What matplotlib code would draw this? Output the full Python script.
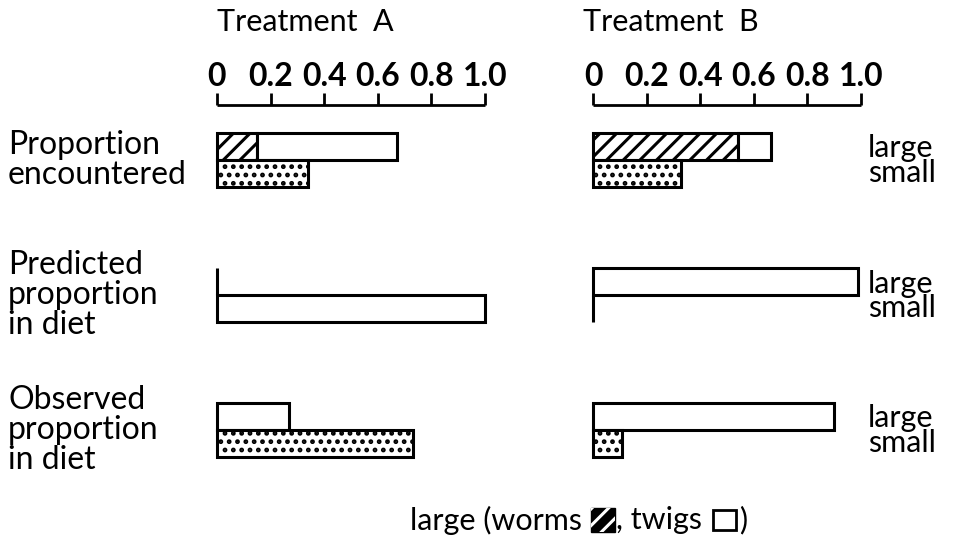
import matplotlib
matplotlib.use("Agg")
import matplotlib.pyplot as plt
from matplotlib import transforms
from matplotlib.offsetbox import TextArea, DrawingArea, HPacker, AnchoredOffsetbox
from matplotlib.patches import Rectangle

# ---- data ----
treatments = ["Treatment  A", "Treatment  B"]
row_labels = ["Proportion\nencountered", "Predicted\nproportion\nin diet", "Observed\nproportion\nin diet"]
size_labels = "large\nsmall"
x_ticks = [0, 0.2, 0.4, 0.6, 0.8, 1.0]
x_tick_labels = ["0", "0.2", "0.4", "0.6", "0.8", "1.0"]

# per treatment (A, B)
enc_large_worms = [0.15, 0.54]
enc_large_twigs = [0.52, 0.125]
enc_small = [0.34, 0.33]
pred_large = [0.0, 0.99]
pred_small = [1.0, 0.0]
obs_large = [0.27, 0.90]
obs_small = [0.73, 0.11]

legend_parts = ["large (worms ", ", twigs ", ")"]

# ---- style ----
plt.rcParams["font.family"] = ["Lato", "DejaVu Sans"]
plt.rcParams["hatch.linewidth"] = 2.2
FS = 22
W, H = 963, 548
fig = plt.figure(figsize=(W / 100, H / 100), dpi=100)


def px_to_fig(x0, x1, ytop, ybot):
    return [x0 / W, 1 - ybot / H, (x1 - x0) / W, (ybot - ytop) / H]


y_top_px, y_bot_px = 105, 470
row_px0, row_step = 160, 135
ylim = ((y_bot_px - row_px0) / row_step, (y_top_px - row_px0) / row_step)
bh = 27 / row_step

axes = [fig.add_axes(px_to_fig(217, 485, y_top_px, y_bot_px)),
        fig.add_axes(px_to_fig(593, 861, y_top_px, y_bot_px))]

lw = 2.2
for i, ax in enumerate(axes):
    common = dict(height=bh, edgecolor="black", linewidth=lw, clip_on=False, color="white")
    # row 0: encountered
    ax.barh(0 - bh / 2, enc_large_worms[i], hatch="//", **common)
    ax.barh(0 - bh / 2, enc_large_twigs[i], left=enc_large_worms[i], **common)
    ax.barh(0 + bh / 2, enc_small[i], hatch="..", **common)
    # row 1: predicted
    ax.barh(1 - bh / 2, pred_large[i], **common)
    ax.barh(1 + bh / 2, pred_small[i], **common)
    # row 2: observed
    ax.barh(2 - bh / 2, obs_large[i], **common)
    ax.barh(2 + bh / 2, obs_small[i], hatch="..", **common)

    ax.set_xlim(0, 1)
    ax.set_ylim(*ylim)
    for s in ["left", "right", "bottom"]:
        ax.spines[s].set_visible(False)
    ax.spines["top"].set_linewidth(2.0)
    ax.spines["top"].set_capstyle("butt")
    ax.xaxis.tick_top()
    ax.set_xticks(x_ticks)
    ax.set_xticklabels(x_tick_labels, fontsize=FS + 1, fontweight="bold")
    ax.tick_params(axis="x", direction="out", length=9, width=2.0, pad=1)
    ax.set_yticks([])
    ax.patch.set_alpha(0)

# titles
title_x = [217, 583]
for i in range(2):
    fig.text(title_x[i] / W, 1 - 22 / H, treatments[i], fontsize=FS, ha="left", va="center")

# left row labels
trL = transforms.blended_transform_factory(fig.transFigure, axes[0].transData)
for r, lab in enumerate(row_labels):
    axes[0].text(8 / W, r, lab, transform=trL, fontsize=FS + 1, ha="left", va="center",
                 linespacing=1.0)

# right size labels
axes[1].yaxis.tick_right()
axes[1].set_yticks([0, 1, 2])
axes[1].set_yticklabels([size_labels] * 3, fontsize=FS, linespacing=0.85)
axes[1].tick_params(axis="y", length=0, pad=5)
for lab in axes[1].get_yticklabels():
    lab.set_ha("left")

# bottom legend: text with hatched and open swatches
sw = 17
da_worm = DrawingArea(sw, sw, 0, 0)
da_worm.add_artist(Rectangle((0, 0), sw, sw, facecolor="black", edgecolor="black", linewidth=1))
da_worm.add_artist(Rectangle((0, 0), sw, sw, facecolor="none", edgecolor="white", linewidth=0,
                             hatch="//"))
da_twig = DrawingArea(sw + 2, sw, 0, 0)
da_twig.add_artist(Rectangle((1, 1), sw, sw - 2, facecolor="white", edgecolor="black", linewidth=2))
tp = dict(fontsize=FS)
box = HPacker(children=[TextArea(legend_parts[0], textprops=tp), da_worm,
                        TextArea(legend_parts[1], textprops=tp), da_twig,
                        TextArea(legend_parts[2], textprops=tp)],
              align="center", pad=0, sep=1)
anch = AnchoredOffsetbox(loc="center left", child=box, pad=0, borderpad=0, frameon=False,
                         bbox_to_anchor=(410 / W, 1 - 520 / H), bbox_transform=fig.transFigure)
fig.add_artist(anch)

fig.savefig("out.png", dpi=100, facecolor="white")
